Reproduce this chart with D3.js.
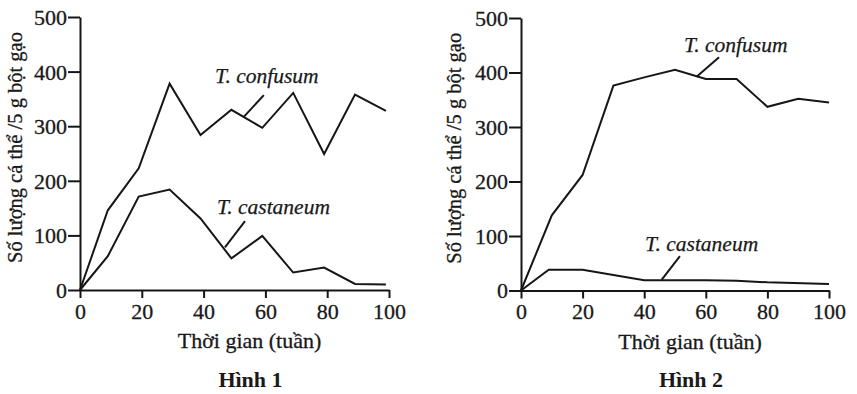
<!DOCTYPE html>
<html><head><meta charset="utf-8">
<script src="https://cdn.jsdelivr.net/npm/d3@7"></script>
<style>
body{margin:0;background:#fff;}
svg text{font-family:"Liberation Serif","Times New Roman",serif;fill:#1a1a1a;}
</style></head>
<body><svg id="c" width="857" height="394"></svg>
<script>
// ---- data ----
const xTicks = [0, 20, 40, 60, 80, 100];
const yTicks = [0, 100, 200, 300, 400, 500];
const xTitle = "Thời gian (tuần)";
const yTitle = "Số lượng cá thể /5 g bột gạo";

const fig1Weeks = [0, 9, 19, 29, 39, 49, 59, 69, 79, 89, 99];
const fig1Confusum = [0, 146, 223, 378, 284, 330, 297, 361, 249, 358, 328];
const fig1CastWeeks = [0, 9, 19, 29, 39, 49, 59, 69, 79, 89, 99];
const fig1Castaneum = [0, 62, 171, 184, 131, 58, 99, 32, 41, 11, 10];

const fig2Weeks = [0, 10, 20, 30, 40, 50, 60, 70, 80, 90, 100];
const fig2Confusum = [0, 138, 212, 376, 391, 405, 388, 388, 337, 352, 345];
const fig2CastWeeks = [0, 9, 20, 40, 60, 70, 80, 100];
const fig2Castaneum = [0, 38, 38, 19, 19, 18, 15, 12];

const seriesNames = ["T. confusum", "T. castaneum"];
const figTitles = ["Hình 1", "Hình 2"];

// label anchors in data units: [labelX, labelY, leaderX1, leaderY1, leaderX2, leaderY2]
const fig1Labels = [[43.7, 379, 59.5, 357, 53, 317], [44.3, 140, 53.4, 126, 46.9, 78]];
const fig2Labels = [[52.9, 438, 64.3, 428, 57, 392], [40.3, 72.5, 51.6, 63, 45.7, 20]];

// ---- drawing ----
const svg = d3.select("#c");
const ink = "#161616";
const serif = '"Liberation Serif","Times New Roman",serif';

function drawPanel(cfg) {
  const x = d3.scaleLinear().domain([0, 100]).range([cfg.x0, cfg.x1]);
  const y = d3.scaleLinear().domain([0, 500]).range([cfg.y0, cfg.y1]);
  const g = svg.append("g");

  const xa = g.append("g").attr("transform", `translate(0,${cfg.y0})`)
    .call(d3.axisBottom(x).tickValues(xTicks).tickSize(8).tickPadding(5).tickSizeOuter(0));
  const ya = g.append("g").attr("transform", `translate(${cfg.x0},0)`)
    .call(d3.axisLeft(y).tickValues(yTicks).tickSize(12).tickPadding(1).tickSizeOuter(0));
  [xa, ya].forEach(a => {
    a.select(".domain").attr("stroke", ink).attr("stroke-width", 2);
    a.selectAll(".tick line").attr("stroke", ink).attr("stroke-width", 2);
    a.selectAll(".tick text").attr("font-size", 22).attr("fill", ink)
      .attr("stroke", ink).attr("stroke-width", 0.3)
      .style("font-family", serif);
  });
  ya.selectAll(".tick text").attr("dy", "0.34em");
  xa.selectAll(".tick text").attr("dy", "0.72em");

  const line = d3.line().x(d => x(d[0])).y(d => y(d[1]));
  cfg.series.forEach(s => {
    g.append("path").datum(d3.zip(s.xs, s.ys)).attr("d", line)
      .attr("fill", "none").attr("stroke", ink).attr("stroke-width", 2)
      .attr("stroke-linejoin", "miter");
  });
  cfg.labels.forEach((l, i) => {
    g.append("text").attr("x", x(l[0])).attr("y", y(l[1]))
      .attr("font-size", 21.5).attr("font-style", "italic")
      .attr("stroke", ink).attr("stroke-width", 0.25).text(seriesNames[i]);
    g.append("line").attr("x1", x(l[2])).attr("y1", y(l[3])).attr("x2", x(l[4])).attr("y2", y(l[5]))
      .attr("stroke", ink).attr("stroke-width", 2);
  });
  g.append("text").attr("x", (cfg.x0 + cfg.x1) / 2 + 15).attr("y", cfg.y0 + 58)
    .attr("text-anchor", "middle").attr("font-size", 22)
    .attr("stroke", ink).attr("stroke-width", 0.3).text(xTitle);
  g.append("text").attr("transform", `translate(${cfg.yt},${(cfg.y0 + cfg.y1) / 2 - 6}) rotate(-90)`)
    .attr("text-anchor", "middle").attr("font-size", 20.5)
    .attr("stroke", ink).attr("stroke-width", 0.3).text(yTitle);
  g.append("text").attr("x", (cfg.x0 + cfg.x1) / 2 + 16).attr("y", 387)
    .attr("text-anchor", "middle").attr("font-size", 22).attr("font-weight", "bold").text(cfg.title);
}

drawPanel({x0: 80, x1: 389, y0: 290, y1: 17, yt: 22, title: figTitles[0], labels: fig1Labels,
  series: [{xs: fig1Weeks, ys: fig1Confusum}, {xs: fig1CastWeeks, ys: fig1Castaneum}]});
drawPanel({x0: 521, x1: 829, y0: 290.5, y1: 18, yt: 461, title: figTitles[1], labels: fig2Labels,
  series: [{xs: fig2Weeks, ys: fig2Confusum}, {xs: fig2CastWeeks, ys: fig2Castaneum}]});
</script></body></html>
